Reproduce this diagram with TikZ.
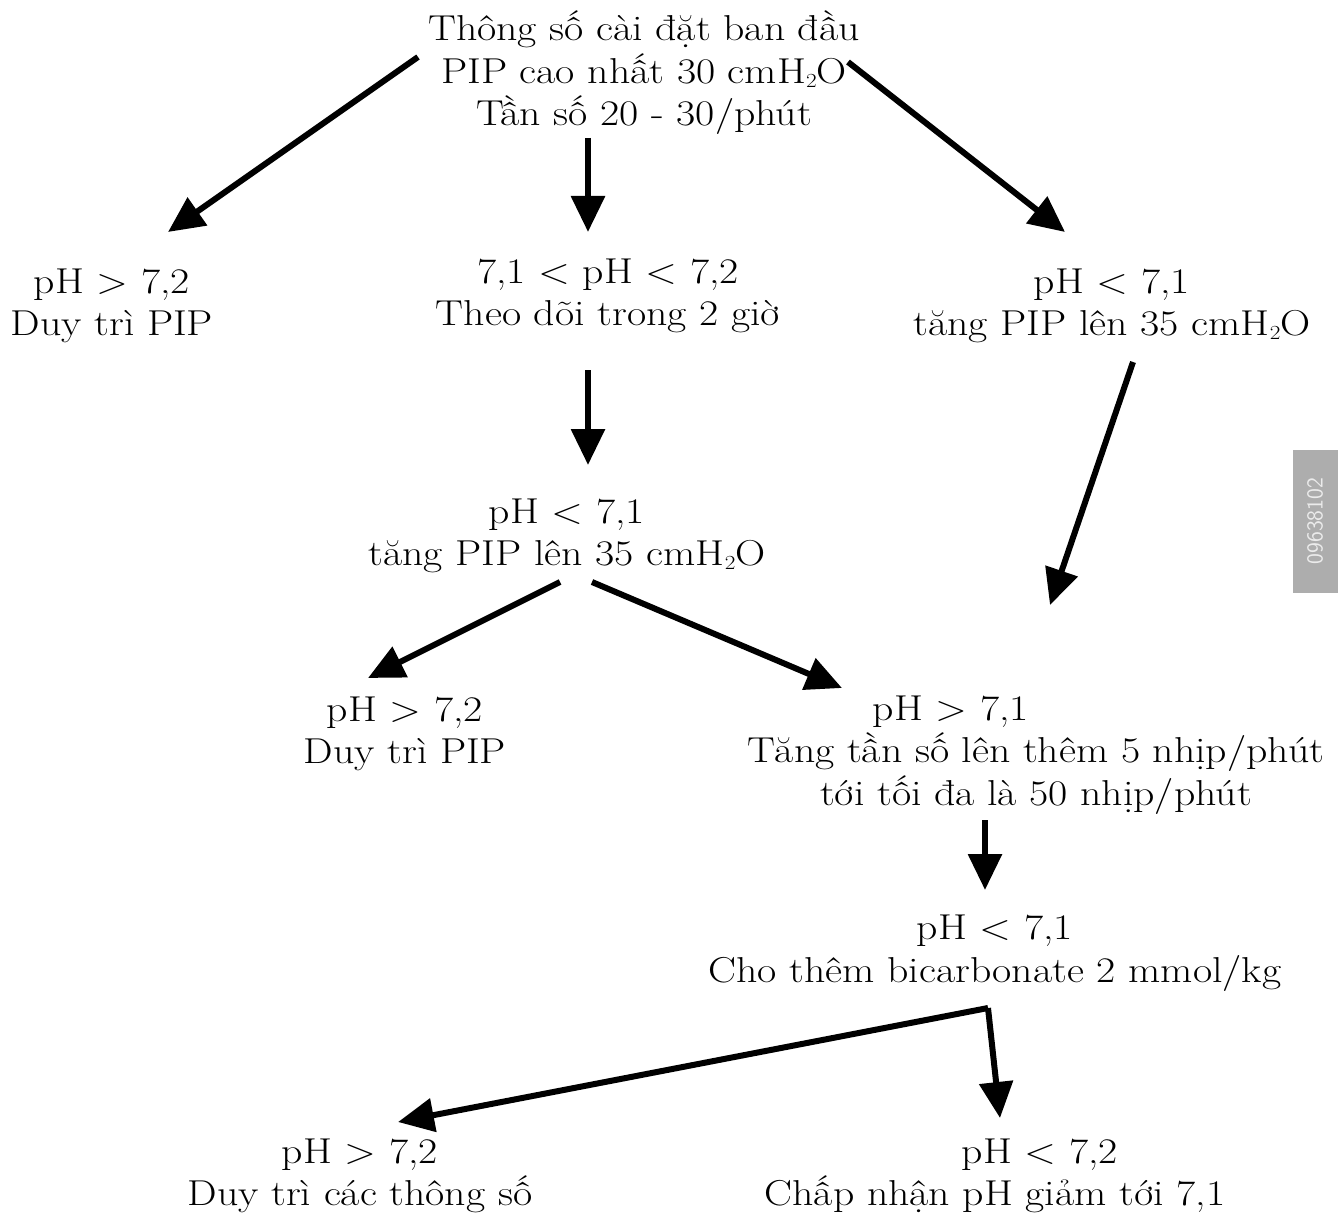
\documentclass[tikz,border=0pt]{standalone}
\usepackage{fontspec}
\setmainfont{Latin Modern Roman}[FakeStretch=1.16]
\usetikzlibrary{arrows.meta}
\newcommand{\hto}{cmH\raisebox{-0.25ex}{\fontsize{20}{20}\selectfont 2}O}
\begin{document}
\begin{tikzpicture}[x=1pt,y=-1pt,
  txt/.style={align=center,inner sep=0pt,font=\fontsize{36}{42.5}\selectfont},
  arr/.style={line width=6pt,-{Triangle[length=36pt,width=33pt]}}]
\useasboundingbox (0,0) rectangle (1343,1214);
\node[txt] (top) at (644,73) {Thông số cài đặt ban đầu\\PIP cao nhất 30 \hto\\Tần số 20 - 30/phút};
\node[txt] (L1) at (112,306) {pH > 7,2\\Duy trì PIP};
\node[txt] (M1) at (608,296) {7,1 < pH < 7,2\\Theo dõi trong 2 giờ};
\node[txt] (R1) at (1112,306) {pH < 7,1\\tăng PIP lên 35 \hto};
\node[txt] (M2) at (567,536) {pH < 7,1\\tăng PIP lên 35 \hto};
\node[txt] (L2) at (405,734) {pH > 7,2\\Duy trì PIP};
\node[txt] (R2) at (1036,755) {\hspace*{-170pt}pH > 7,1\\Tăng tần số lên thêm 5 nhịp/phút\\tới tối đa là 50 nhịp/phút};
\node[txt] (M3) at (995,953) {pH < 7,1\\Cho thêm bicarbonate 2 mmol/kg};
\node[txt] (B1) at (360,1176) {pH > 7,2\\Duy trì các thông số};
\node[txt] (B2) at (995,1176) {\hspace*{90pt}pH < 7,2\\Chấp nhận pH giảm tới 7,1};
\node[fill=black!32,minimum width=45pt,minimum height=143pt,inner sep=0pt] (wm) at (1315,521) {};
\node[rotate=90,text=white!92!black,font=\sffamily\fontsize{23}{23}\selectfont] (wmt) at (wm.center) {09638102};
\draw[arr] ([shift={(-226,-16)}]top.center) -- ([shift={(56,-74)}]L1.center);
\draw[arr] ([shift={(-56,65)}]top.center) -- ([shift={(-20,-64)}]M1.center);
\draw[arr] ([shift={(204,-11)}]top.center) -- ([shift={(-47,-74)}]R1.center);
\draw[arr] ([shift={(-20,74)}]M1.center) -- ([shift={(21,-71)}]M2.center);
\draw[arr] ([shift={(21,56)}]R1.center) -- ([shift={(14,-150)}]R2.center);
\draw[arr] ([shift={(-7,46)}]M2.center) -- ([shift={(-37,-56)}]L2.center);
\draw[arr] ([shift={(25,46)}]M2.center) -- ([shift={(-194,-67)}]R2.center);
\draw[arr] ([shift={(-51,65)}]R2.center) -- ([shift={(-10,-63)}]M3.center);
\draw[arr] ([shift={(-7,55)}]M3.center) -- ([shift={(38,-54)}]B1.center);
\draw[arr] ([shift={(-7,55)}]M3.center) -- ([shift={(5,-58)}]B2.center);
\end{tikzpicture}
\end{document}
